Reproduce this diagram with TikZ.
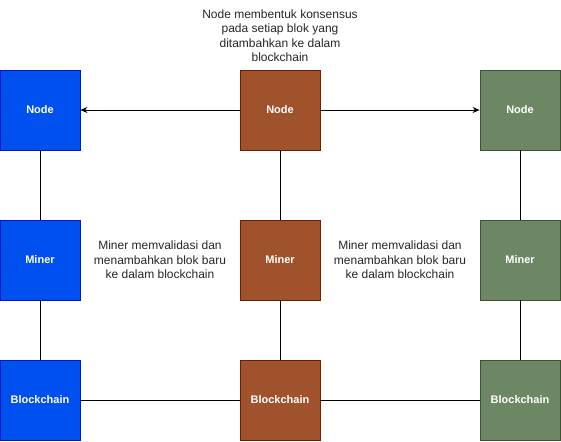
\documentclass[tikz,border=0pt]{standalone}
\usepackage{fontspec}
\setmainfont{Liberation Sans}
\usetikzlibrary{arrows.meta}
\definecolor{bluefill}{HTML}{0050EF}
\definecolor{bluedraw}{HTML}{001DBC}
\definecolor{brownfill}{HTML}{A0522D}
\definecolor{browndraw}{HTML}{6D1F00}
\definecolor{greenfill}{HTML}{6D8764}
\definecolor{greendraw}{HTML}{3A5431}
\tikzset{
  box/.style={minimum width=80pt, minimum height=80pt, inner sep=0pt, text=white, font=\fontsize{11}{13}\selectfont\bfseries, line width=0.8pt},
  bluebox/.style={box, fill=bluefill, draw=bluedraw},
  brownbox/.style={box, fill=brownfill, draw=browndraw},
  greenbox/.style={box, fill=greenfill, draw=greendraw},
  note/.style={align=center, font=\fontsize{12}{14.5}\selectfont, text=black!85, inner sep=0pt},
  link/.style={line width=0.8pt, draw=black},
  arr/.style={link, -{Stealth[length=7pt, width=6pt]}}
}
\begin{document}
\begin{tikzpicture}[x=1pt, y=-1pt]
\useasboundingbox (0,0) rectangle (561,441);
\node[bluebox] (nl) at (40,110) {Node};
\node[bluebox] (ml) at (40,260) {Miner};
\node[bluebox] (bl) at (40,400) {Blockchain};
\node[brownbox] (nm) at (280,110) {Node};
\node[brownbox] (mm) at (280,260) {Miner};
\node[brownbox] (bm) at (280,400) {Blockchain};
\node[greenbox] (nr) at (520,110) {Node};
\node[greenbox] (mr) at (520,260) {Miner};
\node[greenbox] (br) at (520,400) {Blockchain};
\node[note] (t1) at (280,35.5) {Node membentuk konsensus\\pada setiap blok yang\\ditambahkan ke dalam\\blockchain};
\node[note] (t2) at (160,260) {Miner memvalidasi dan\\menambahkan blok baru\\ke dalam blockchain};
\node[note] (t3) at (400,260) {Miner memvalidasi dan\\menambahkan blok baru\\ke dalam blockchain};
\draw[arr] (nm) -- (nl);
\draw[arr] (nm) -- (nr);
\draw[link] (nl) -- (ml);
\draw[link] (ml) -- (bl);
\draw[link] (nm) -- (mm);
\draw[link] (mm) -- (bm);
\draw[link] (nr) -- (mr);
\draw[link] (mr) -- (br);
\draw[link] (bl) -- (bm);
\draw[link] (bm) -- (br);
\end{tikzpicture}
\end{document}
